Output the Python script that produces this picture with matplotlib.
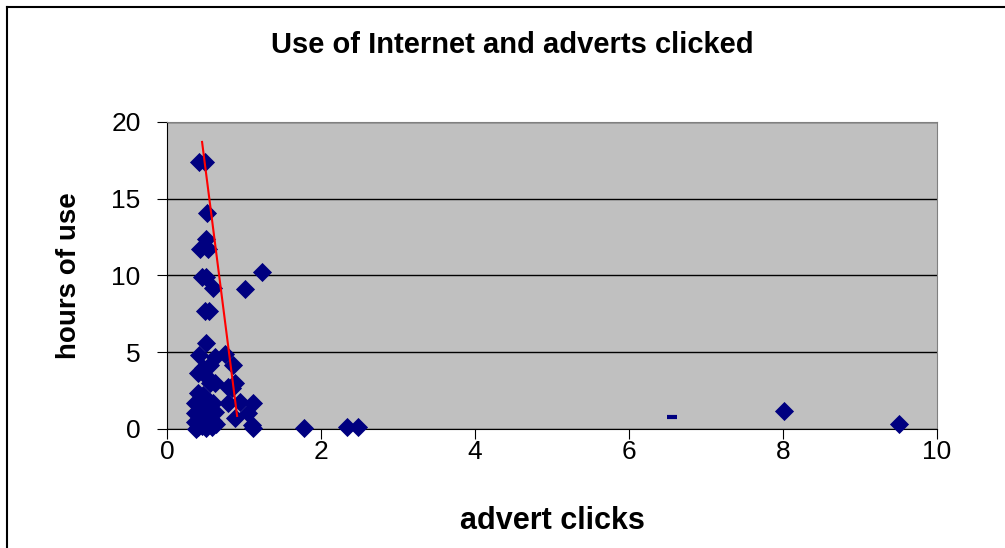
import matplotlib.pyplot as plt
from matplotlib.lines import Line2D

plt.rcParams['font.family'] = ['Liberation Sans', 'DejaVu Sans']

# advert clicks vs hours of internet use
clicks = [0.42, 0.49, 0.52, 0.51, 0.43, 0.53, 0.45, 0.50, 1.23, 1.01,
          0.60, 0.49, 0.55, 0.50, 0.41, 0.62, 0.75, 0.86, 0.47, 0.56,
          0.40, 0.49, 0.56, 0.62, 0.84, 0.88, 0.79, 0.40, 0.47, 0.36,
          0.47, 0.60, 0.79, 0.95, 1.12, 0.36, 0.49, 0.62, 0.88, 1.05,
          0.36, 0.49, 0.60, 1.10, 0.40, 0.45, 0.52, 0.58, 1.12, 0.43,
          0.55, 0.38, 0.50, 0.64, 1.78, 2.34, 2.48, 8.01, 9.50]
hours = [17.4, 17.4, 14.1, 12.4, 11.7, 11.7, 9.9, 9.9, 10.2, 9.1,
         9.2, 7.7, 7.7, 5.6, 4.8, 4.7, 4.9, 4.2, 4.0, 4.2,
         3.65, 3.5, 3.0, 3.0, 2.7, 3.0, 2.75, 2.35, 2.2, 1.7,
         1.7, 1.7, 1.7, 1.75, 1.7, 1.05, 1.05, 1.1, 0.72, 1.05,
         0.46, 0.46, 0.5, 0.26, 0.1, 0.2, 0.3, 0.15, 0.05, 0.7,
         0.6, 0.0, 0.05, 0.3, 0.05, 0.1, 0.1, 1.2, 0.3]

# lone point drawn with a dash marker
dash_x = [6.56]
dash_y = [0.78]

# red line through the cluster
line_x = [0.455, 0.91]
line_y = [18.7, 0.85]

fig = plt.figure(figsize=(10.05, 5.48), dpi=100)
ax = fig.add_axes([0.1662, 0.2172, 0.7662, 0.5602])
ax.set_facecolor('#C0C0C0')

ax.set_xlim(0, 10)
ax.set_ylim(0, 20)
ax.set_xticks(range(0, 11, 2))
ax.set_yticks(range(0, 21, 5))
ax.yaxis.grid(True, color='black', lw=1)
ax.set_axisbelow(True)

ax.scatter(clicks, hours, marker='D', s=95, color='#000080', zorder=3,
           clip_on=False, linewidths=0)
ax.plot(dash_x, dash_y, marker='_', ms=7, mew=3, color='#000080', ls='none', zorder=3)
ax.plot(line_x, line_y, color='red', lw=1.5, zorder=4)

for side in ('top', 'right'):
    ax.spines[side].set_color('#808080')
for side in ('left', 'bottom'):
    ax.spines[side].set_color('black')
ax.tick_params(direction='out', length=7, labelsize=19, color='black')
ax.tick_params(axis='y', pad=12)
ax.tick_params(axis='x', pad=1)

fig.text(0.510, 0.917, 'Use of Internet and adverts clicked', ha='center', va='center',
         fontsize=21, fontweight='bold')
ax.set_xlabel('advert clicks', fontsize=22, fontweight='bold', labelpad=30)
ax.set_ylabel('hours of use', fontsize=20, fontweight='bold', labelpad=21)

# chart frame
fig.add_artist(Line2D([0.007, 0.007], [0, 0.987], color='black', lw=1.5))
fig.add_artist(Line2D([0.007, 1.0], [0.987, 0.987], color='black', lw=1.5))

fig.savefig('out.png', dpi=100)
